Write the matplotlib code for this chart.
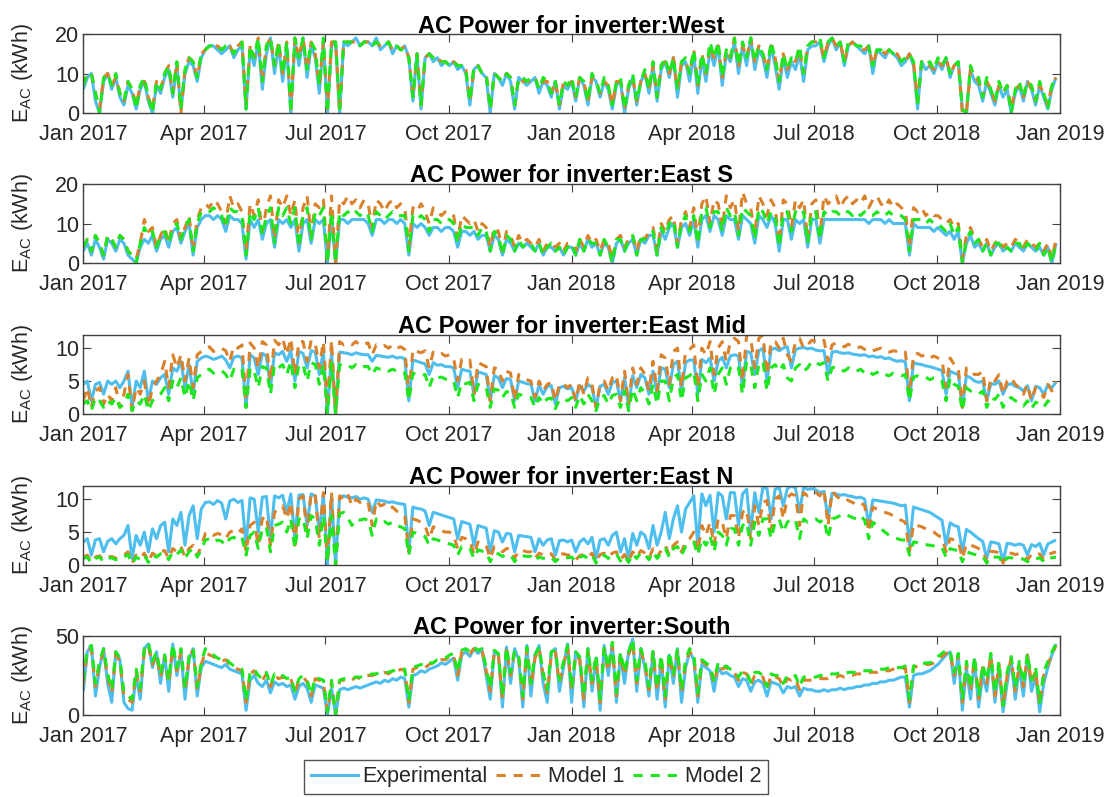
import numpy as np
import pandas as pd
import matplotlib
matplotlib.use("Agg")
import matplotlib.pyplot as plt
import matplotlib.dates as mdates
from matplotlib.lines import Line2D

plt.rcParams['font.family'] = ['Liberation Sans', 'DejaVu Sans']
plt.rcParams['mathtext.fontset'] = 'custom'
plt.rcParams['mathtext.rm'] = 'Liberation Sans'
plt.rcParams['mathtext.it'] = 'Liberation Sans'

# Daily energy (kWh) sampled every 73 h (10 samples per month) from 1 Jan 2017
START = '2017-01-01'
STEP = '73h'

series_names = ['Experimental', 'Model 1', 'Model 2']
inverters = ['West', 'East S', 'East Mid', 'East N', 'South']
y_limits = [20, 20, 12, 12, 50]
y_ticks = [[0, 10, 20], [0, 10, 20], [0, 5, 10], [0, 5, 10], [0, 50]]

west_exp = [
    6, 9, 10, 3, 0, 8, 10, 6, 9, 4,
    2, 7, 5, 1, 6, 8, 3, 0, 7, 5,
    9, 11, 4, 12, 1, 10, 13, 12, 8, 14,
    16, 17, 17, 16, 15, 16, 17, 14, 16, 17,
    1, 16, 12, 18, 6, 15, 19, 10, 17, 8,
    17, 0, 18, 12, 19, 9, 17, 14, 5, 18,
    0, 17, 18, 0, 18, 17, 18, 19, 17, 18,
    18, 17, 19, 16, 17, 18, 15, 17, 16, 17,
    14, 3, 15, 1, 14, 15, 13, 14, 12, 13,
    12, 13, 11, 12, 10, 2, 11, 12, 10, 9,
    0, 10, 9, 7, 10, 8, 1, 9, 8, 7,
    8, 9, 5, 8, 7, 4, 8, 1, 7, 6,
    8, 3, 9, 7, 2, 9, 8, 4, 8, 6,
    1, 7, 8, 0, 6, 9, 2, 8, 10, 5,
    12, 3, 11, 13, 9, 14, 4, 12, 13, 8,
    15, 5, 14, 8, 16, 12, 17, 7, 15, 13,
    18, 10, 17, 12, 19, 11, 16, 14, 9, 17,
    12, 6, 14, 9, 13, 11, 15, 8, 16, 17,
    17, 18, 13, 17, 19, 16, 18, 12, 17, 18,
    17, 16, 15, 17, 10, 16, 15, 14, 16, 15,
    14, 12, 13, 15, 12, 1, 13, 11, 12, 10,
    13, 11, 14, 9, 12, 13, 1, 0, 11, 8,
    7, 3, 8, 5, 2, 7, 4, 6, 0, 5,
    7, 3, 8, 6, 2, 7, 4, 1, 6, 9]
west_m1 = [
    7, 10, 10, 5, 1, 9, 10, 7, 9, 5,
    3, 8, 6, 2, 7, 8, 4, 1, 8, 6,
    10, 12, 5, 13, 0, 11, 14, 13, 9, 15,
    16, 17, 17, 17, 16, 17, 17, 15, 17, 18,
    2, 17, 14, 19, 8, 17, 19, 12, 18, 10,
    18, 1, 19, 14, 19, 11, 18, 15, 7, 18,
    1, 18, 18, 0, 18, 18, 18, 18, 17, 18,
    18, 17, 18, 17, 17, 18, 16, 17, 16, 17,
    14, 4, 15, 2, 14, 15, 14, 14, 13, 13,
    12, 13, 12, 12, 11, 3, 11, 12, 10, 10,
    1, 10, 9, 8, 10, 9, 2, 9, 8, 8,
    8, 9, 6, 8, 8, 5, 8, 2, 8, 7,
    8, 4, 9, 8, 3, 9, 8, 5, 8, 7,
    2, 8, 8, 1, 7, 9, 3, 8, 10, 6,
    12, 4, 12, 13, 10, 14, 6, 13, 13, 10,
    16, 7, 15, 10, 17, 14, 17, 9, 16, 14,
    19, 12, 17, 14, 19, 13, 17, 15, 11, 17,
    14, 8, 15, 11, 14, 13, 16, 10, 17, 18,
    18, 18, 14, 18, 19, 17, 18, 13, 17, 18,
    17, 16, 16, 17, 12, 16, 16, 15, 16, 15,
    15, 13, 13, 15, 13, 3, 13, 12, 12, 11,
    13, 12, 14, 10, 12, 13, 0, 0, 11, 9,
    8, 4, 8, 6, 3, 7, 5, 7, 1, 6,
    7, 4, 8, 6, 3, 7, 5, 2, 7, 9]
west_m2 = [
    7, 10, 10, 5, 0, 9, 10, 7, 10, 5,
    3, 8, 6, 1, 7, 9, 4, 0, 8, 6,
    10, 12, 5, 13, 1, 11, 14, 13, 9, 15,
    16, 17, 17, 17, 16, 17, 17, 15, 17, 18,
    1, 17, 14, 19, 8, 17, 19, 12, 18, 10,
    18, 0, 19, 14, 19, 11, 18, 16, 7, 19,
    0, 18, 18, 1, 18, 18, 18, 18, 17, 18,
    18, 17, 18, 17, 17, 18, 16, 17, 16, 16,
    14, 4, 15, 2, 14, 15, 14, 14, 13, 13,
    12, 13, 12, 12, 11, 3, 12, 12, 10, 10,
    1, 10, 9, 8, 10, 9, 2, 9, 9, 8,
    9, 9, 6, 9, 8, 5, 8, 2, 8, 7,
    9, 4, 9, 8, 3, 10, 8, 5, 9, 7,
    2, 8, 9, 1, 7, 10, 3, 8, 11, 6,
    13, 4, 12, 14, 10, 14, 6, 13, 14, 10,
    16, 7, 15, 10, 18, 14, 18, 9, 16, 14,
    19, 12, 18, 14, 19, 13, 17, 15, 11, 18,
    14, 8, 15, 11, 14, 13, 17, 10, 17, 18,
    18, 19, 14, 18, 19, 17, 18, 13, 18, 18,
    17, 17, 16, 17, 12, 16, 16, 15, 16, 15,
    15, 13, 14, 15, 13, 2, 13, 12, 13, 11,
    14, 12, 14, 10, 12, 13, 1, 0, 12, 9,
    9, 4, 9, 6, 3, 8, 5, 7, 0, 6,
    8, 4, 8, 7, 3, 8, 5, 1, 7, 9]

east_s_exp = [
    3, 5, 2, 6, 4, 1, 6, 5, 3, 6,
    5, 2, 1, 0, 4, 6, 5, 7, 3, 6,
    7, 4, 8, 9, 5, 8, 10, 2, 9, 11,
    12, 12, 11, 12, 11, 8, 12, 11, 11, 10,
    1, 11, 9, 11, 6, 10, 11, 4, 11, 10,
    11, 9, 11, 3, 10, 11, 5, 11, 10, 11,
    0, 11, 0, 11, 11, 10, 11, 11, 11, 11,
    10, 7, 11, 11, 10, 11, 11, 10, 11, 10,
    2, 10, 9, 10, 9, 7, 9, 9, 8, 9,
    9, 8, 4, 8, 8, 7, 8, 6, 7, 7,
    3, 7, 6, 2, 6, 5, 3, 5, 4, 5,
    4, 3, 5, 2, 4, 4, 3, 4, 2, 4,
    4, 2, 5, 3, 6, 4, 5, 2, 5, 4,
    0, 5, 6, 3, 5, 6, 2, 6, 5, 7,
    7, 2, 8, 6, 9, 10, 4, 9, 10, 7,
    11, 4, 11, 12, 8, 12, 11, 7, 12, 11,
    11, 6, 12, 11, 10, 5, 12, 11, 9, 12,
    10, 3, 11, 11, 6, 11, 10, 11, 4, 11,
    11, 5, 11, 11, 11, 11, 11, 11, 11, 11,
    11, 11, 11, 10, 11, 11, 11, 10, 11, 10,
    10, 10, 10, 2, 10, 9, 9, 9, 9, 8,
    9, 8, 7, 8, 6, 8, 0, 5, 7, 4,
    5, 3, 5, 2, 4, 5, 3, 4, 3, 5,
    4, 3, 5, 4, 3, 4, 2, 4, 0, 5]
east_s_m1 = [
    4, 6, 3, 7, 5, 2, 7, 6, 4, 7,
    6, 3, 2, 1, 5, 11, 8, 9, 4, 7,
    9, 5, 10, 11, 6, 9, 12, 3, 11, 14,
    15, 14, 16, 15, 13, 10, 17, 14, 15, 13,
    3, 15, 12, 16, 8, 14, 17, 6, 16, 14,
    17, 12, 16, 5, 14, 17, 7, 15, 14, 16,
    1, 17, 0, 16, 15, 17, 15, 16, 14, 16,
    15, 9, 16, 15, 13, 15, 16, 14, 15, 14,
    4, 14, 13, 15, 13, 10, 14, 13, 12, 13,
    13, 12, 6, 12, 11, 10, 11, 8, 10, 9,
    4, 9, 8, 3, 8, 7, 4, 7, 5, 6,
    5, 4, 6, 3, 5, 5, 4, 5, 3, 5,
    5, 3, 6, 4, 7, 5, 6, 3, 6, 5,
    1, 6, 7, 4, 6, 7, 3, 7, 6, 8,
    9, 3, 10, 8, 11, 12, 5, 11, 13, 9,
    14, 6, 15, 17, 10, 16, 15, 9, 17, 14,
    16, 8, 18, 15, 14, 7, 17, 15, 12, 16,
    14, 5, 16, 15, 9, 16, 14, 16, 6, 15,
    16, 7, 17, 15, 16, 17, 14, 16, 17, 15,
    16, 15, 17, 14, 16, 17, 15, 14, 16, 14,
    15, 14, 13, 4, 14, 13, 14, 12, 13, 12,
    12, 11, 10, 11, 9, 10, 1, 7, 9, 6,
    6, 4, 6, 3, 5, 6, 4, 5, 4, 6,
    5, 4, 6, 5, 4, 5, 3, 5, 1, 6]
east_s_m2 = [
    4, 6, 3, 7, 5, 2, 7, 6, 4, 7,
    6, 3, 2, 0, 5, 9, 7, 8, 4, 7,
    8, 5, 9, 10, 6, 9, 11, 3, 10, 13,
    13, 13, 14, 13, 12, 9, 14, 13, 13, 12,
    2, 13, 11, 14, 7, 12, 14, 5, 14, 12,
    14, 10, 14, 4, 12, 14, 6, 13, 12, 14,
    0, 13, 0, 13, 12, 13, 12, 13, 12, 13,
    12, 8, 13, 12, 11, 12, 13, 12, 12, 12,
    3, 12, 11, 12, 11, 8, 11, 11, 10, 11,
    11, 10, 5, 10, 9, 9, 9, 7, 9, 8,
    3, 8, 7, 2, 7, 6, 3, 6, 4, 5,
    5, 3, 5, 2, 4, 5, 3, 4, 2, 4,
    5, 2, 6, 3, 6, 5, 5, 2, 6, 4,
    0, 6, 6, 3, 6, 7, 2, 6, 6, 7,
    8, 2, 9, 7, 10, 11, 4, 10, 12, 8,
    12, 5, 13, 14, 9, 13, 13, 8, 14, 12,
    13, 7, 14, 13, 12, 6, 14, 13, 10, 13,
    12, 4, 13, 13, 8, 13, 12, 13, 5, 13,
    13, 6, 13, 12, 13, 13, 12, 13, 13, 12,
    13, 12, 13, 12, 12, 13, 12, 12, 13, 12,
    12, 12, 11, 3, 11, 11, 11, 10, 11, 10,
    10, 9, 8, 10, 7, 9, 0, 6, 8, 5,
    6, 3, 5, 2, 5, 5, 3, 4, 3, 5,
    5, 3, 5, 4, 3, 5, 2, 4, 0, 5]

east_mid_exp = [
    4.5, 5, 2, 4.5, 4.8, 3, 5, 4.5, 5, 4,
    5, 6.5, 1, 5, 4, 6.5, 2, 5, 4.5, 5.5,
    6, 3, 7, 6.5, 8, 4, 7.5, 3, 8, 8.5,
    8.8, 8.6, 8.3, 8.5, 8.8, 8.2, 7, 8.6, 8.8, 8.5,
    1, 9, 8.5, 6, 9.2, 8.8, 4, 9.3, 9, 9.5,
    8, 9.6, 5, 9.5, 9.2, 7, 9.6, 9.4, 6, 9.5,
    0, 9.3, 0, 9.4, 9.3, 9.2, 9, 9.3, 9.1, 9,
    9, 8, 8.9, 8.8, 8.7, 8.6, 8.8, 8.5, 8.6, 8.4,
    2, 8.2, 8, 7.8, 7.6, 6, 7.8, 7.4, 7.5, 7.2,
    7.2, 7, 4, 6.8, 6.6, 6.5, 3, 6.4, 6.2, 6,
    2, 5.8, 5.5, 4, 5.4, 5.2, 2, 5, 4.8, 4.6,
    4.5, 2, 4.4, 3, 4.2, 4.3, 1.5, 4, 4.2, 3.8,
    4, 2, 4.3, 3.5, 4.5, 4, 1, 4.2, 4.5, 3,
    4.8, 5, 2, 5.5, 1, 5.8, 4, 6, 5.5, 3,
    6.5, 3, 7, 6.8, 4, 7.5, 8, 3.5, 7.8, 8.2,
    8.2, 3, 8.3, 7.8, 8.5, 5, 8, 8.6, 7, 8.8,
    9, 8.8, 4, 9.5, 9.3, 6, 9.6, 10, 5, 9.8,
    10, 9.6, 10, 10.2, 7, 9.8, 10, 10.1, 9.9, 10,
    9.7, 9.6, 9.6, 6, 9.4, 9.5, 9.3, 9.2, 9.3, 9.1,
    9, 8.9, 9, 8.7, 8.8, 8.6, 8.7, 8.4, 8.5, 8.2,
    8, 8.1, 7.9, 2, 7.8, 7.6, 7.5, 7.3, 7.2, 7,
    6.8, 6.6, 3, 6.5, 6.2, 6, 1, 5.8, 5.5, 5,
    4.8, 5, 2, 4.6, 4.5, 5, 3, 4.4, 4.6, 4.2,
    4, 3.5, 4.3, 2, 4.2, 4, 3, 4.4, 4, 4.8]
east_mid_m1 = [
    2, 4, 1, 3.5, 4, 1.5, 3, 2, 4, 1,
    3, 6, 0.5, 4, 3, 5, 1, 4, 5, 6,
    8, 4, 9, 7, 9, 5, 8.5, 4, 9, 9.5,
    10, 10.2, 9.5, 9.8, 10, 9.6, 8, 10.3, 10, 10.5,
    2, 10.8, 10, 7, 11, 10.5, 5, 11.2, 10.5, 11.5,
    9, 11.5, 6, 11, 11, 8, 11.2, 10.8, 7, 11,
    1, 11.2, 0, 11, 10.5, 10.8, 10.5, 11, 10.4, 10.6,
    10.8, 9, 10.5, 10.2, 10.4, 10, 10.5, 10, 10.2, 9.8,
    3, 9.8, 9.5, 9.3, 9.6, 7, 9.4, 9, 9.2, 8.8,
    9, 8.5, 5, 8.3, 8, 8.2, 3, 7.8, 7.5, 7.2,
    2, 7, 6.8, 5, 6.5, 6.2, 2, 6, 5.5, 5.2,
    5, 2.5, 5, 3.5, 4.5, 4.8, 2, 4.5, 4.6, 4,
    4.5, 2, 5, 3, 5.5, 4.5, 1, 4.6, 5, 3.5,
    5.5, 6, 2, 6.5, 1.5, 7, 4.5, 7, 6, 3.5,
    8, 3.5, 9, 8.5, 4.5, 9.5, 10, 4, 9.5, 9.8,
    10.5, 4, 10, 9, 11, 6, 10, 11, 8, 11,
    11.5, 11, 5, 12, 11.5, 7, 11.5, 12, 6, 11,
    11, 10, 11.5, 9, 8, 11, 11.5, 10, 10.5, 11.2,
    11, 10.8, 11.2, 8, 10.5, 10.8, 10.5, 10.2, 10.6, 10.2,
    10, 10.2, 9.8, 10, 9.6, 9.8, 10, 9.5, 9.4, 9.6,
    9.5, 9.2, 9.4, 3, 9, 9.2, 8.8, 9, 8.5, 8.8,
    8.5, 8.2, 4, 8.5, 7.5, 7, 1, 7, 6.5, 6,
    6, 6.5, 2, 5.5, 5, 6, 3, 5, 5.5, 4.5,
    4, 3, 4.5, 2, 4, 3.5, 2.5, 4.5, 3.5, 5]
east_mid_m2 = [
    1.5, 2, 0.5, 2.5, 2, 1, 2, 1.5, 2.5, 1,
    1.5, 3, 0.5, 2, 1.5, 3, 0.5, 2, 2.5, 3,
    4, 2, 5, 4, 5.5, 2.5, 5, 2, 5.5, 6,
    6.5, 6.8, 6.2, 6.5, 6.6, 6, 5, 6.8, 6.5, 6.8,
    1, 7, 6.5, 4, 7.2, 7, 3, 7.5, 7, 7.5,
    6, 8, 4, 7.5, 7.5, 5, 7.8, 7.5, 4.5, 7.5,
    0, 7.8, 0, 7.5, 7.2, 7.4, 7, 7.5, 7, 7.2,
    7.2, 6, 7, 6.8, 6.9, 6.5, 6.8, 6.5, 6.6, 6.3,
    2, 6.2, 6, 5.8, 6, 4, 5.8, 5.5, 5.6, 5.3,
    5.2, 5, 2.5, 4.8, 4.6, 4.8, 2, 4.5, 4.2, 4,
    1, 3.8, 3.6, 2.5, 3.4, 3.2, 1, 3, 2.8, 2.6,
    2.5, 1, 2.5, 1.5, 2.3, 2.4, 0.8, 2.2, 2.3, 2,
    2.5, 1, 2.8, 1.5, 3, 2, 0.5, 2.5, 2.8, 1.5,
    2.8, 3, 1, 3.5, 0.5, 3.8, 2, 4, 3.2, 1.5,
    4.5, 1.5, 5, 5, 2, 5.5, 6, 2, 5.5, 5.8,
    6.5, 2, 6, 5, 7, 3, 6, 7, 4.5, 7,
    7.5, 7, 3, 8, 7.5, 4, 7.5, 8, 3.5, 7,
    7.5, 6.5, 7.5, 5.5, 5, 7, 7.5, 6.5, 7, 8,
    7.8, 7.5, 7.8, 5, 7, 7.2, 6.8, 6.5, 7, 6.6,
    6.5, 6.8, 6.2, 6.5, 6, 6.3, 6.5, 6, 5.8, 6.2,
    6, 5.8, 6, 2, 5.6, 5.8, 5.5, 5.6, 5.2, 5.5,
    5.5, 5, 2, 5.5, 4.5, 4.2, 0.5, 4, 3.5, 3.2,
    3, 3.5, 1, 2.5, 2.2, 3, 1, 2.2, 2.5, 2,
    1.8, 1.2, 2, 0.8, 1.8, 1.5, 1, 2, 1.5, 2]

east_n_exp = [
    3.5, 4, 1.5, 3.8, 4, 2, 3.6, 4, 3.2, 4,
    4.5, 6, 1, 4.5, 3, 5, 2, 5.5, 4, 6,
    6.5, 2, 7, 6, 8, 3, 7.5, 9, 4, 8.5,
    9.5, 9.6, 9.2, 9.8, 9.4, 7, 9.7, 10, 9.5, 9.8,
    3, 10.2, 10, 5, 10.3, 10.4, 4, 10.5, 10.2, 10.6,
    8, 10.8, 4, 10.6, 10.7, 6, 10.8, 10.5, 5, 10.6,
    0, 10.5, 0, 10.4, 10.5, 10.3, 10.2, 10.4, 10, 10.2,
    10, 8, 9.9, 9.8, 9.7, 9.5, 9.6, 9.4, 9.3, 9.2,
    2, 8.8, 8.6, 8.5, 8.2, 6, 8, 7.8, 7.6, 7.4,
    7.2, 7, 4, 6.6, 6.4, 6.2, 3, 6, 5.8, 5.6,
    2, 5.2, 5, 3.5, 4.8, 4.7, 2, 4.5, 4.4, 4.3,
    4.2, 2, 4, 3, 3.8, 4, 1.5, 3.7, 3.8, 3.5,
    3.8, 2, 3.5, 4, 3.2, 4.2, 1, 3.8, 4, 3,
    4.5, 5, 2, 4, 1, 4.8, 3, 5, 4.5, 2.5,
    6, 3, 5, 8, 4, 7, 9, 5, 8.5, 9.5,
    10.5, 3, 10.8, 9, 10.6, 5, 11, 10.5, 7, 11,
    11, 6, 10.8, 11.5, 5, 11, 8, 11.8, 11.6, 7,
    11.5, 11.8, 9, 11.6, 12, 11.7, 8, 11.8, 11.5, 11.6,
    11.4, 11, 11.2, 7, 10.9, 10.8, 10.6, 10.7, 10.5, 10.4,
    10.2, 10.3, 10, 6, 9.9, 9.8, 9.7, 9.6, 9.5, 9.4,
    9.2, 9, 9.1, 3, 8.8, 8.6, 8.4, 8.2, 8, 7.6,
    7.2, 6.8, 3, 6.4, 6, 5.8, 2, 5.4, 5, 4.5,
    4, 3.6, 1, 3.5, 3.4, 3.2, 0.5, 3.3, 3.2, 3,
    3.2, 3, 1.5, 3.1, 2.8, 3.3, 1.5, 3.2, 3.5, 3.8]
east_n_m1 = [
    1.2, 1.5, 0.5, 1.2, 1.4, 0.8, 1.2, 1.3, 1, 1.4,
    1.5, 2, 0.3, 1.5, 1, 1.8, 0.5, 1.8, 1.4, 2,
    2.2, 1, 2.5, 2, 2.8, 1.2, 2.5, 3, 1.5, 2.8,
    4.8, 5, 4.5, 4.8, 4.6, 4, 5, 5.2, 4.8, 5.5,
    2, 6, 6.5, 3, 7, 7.5, 3, 8, 8.5, 9,
    7, 9.5, 3, 10, 10.5, 5, 11, 10.5, 4, 11,
    1, 11, 0, 10.5, 10, 10.8, 9, 10, 9.5, 9.8,
    9.5, 6, 9.8, 9, 9.2, 8.5, 8.8, 8.2, 8, 7.5,
    2, 7, 6.8, 6.5, 6, 4, 5.8, 5.5, 5.2, 5,
    5, 4.5, 2.5, 4.2, 4, 3.8, 1.5, 3.5, 3.2, 3,
    1, 2.8, 2.6, 2, 2.5, 2.4, 1, 2.2, 2.2, 2,
    2, 1, 1.8, 1.5, 1.8, 1.7, 0.8, 1.6, 1.7, 1.5,
    1.5, 0.8, 1.4, 1.6, 1.2, 1.8, 0.5, 1.6, 1.8, 1.2,
    1.8, 2, 0.8, 1.6, 0.5, 2, 1.2, 2.2, 1.8, 1,
    2.5, 1.2, 2.2, 3, 1.5, 3, 3.5, 2, 3.5, 4,
    5, 2, 6, 4.5, 6.5, 3, 7, 6.5, 4, 7.5,
    7.5, 4, 8, 8.5, 4, 9, 6, 9.5, 9.8, 5,
    10, 10.5, 7, 10.2, 10.8, 10.5, 6, 11, 10.5, 10.8,
    11, 10.5, 11.5, 6, 11.2, 10.5, 10, 10.2, 9.8, 9.5,
    9.2, 9.5, 9, 5, 8.8, 8.5, 8.2, 8, 7.8, 7.5,
    7, 6.8, 6.5, 2, 6.2, 6, 5.8, 5.5, 5.2, 5,
    4.5, 4.2, 2, 4, 3.8, 3.6, 1, 3.2, 3, 2.8,
    2.5, 2.2, 0.5, 2.1, 2, 1.9, 0.3, 1.8, 1.8, 1.6,
    1.7, 1.5, 0.8, 1.6, 1.4, 1.7, 0.8, 1.6, 1.8, 2]
east_n_m2 = [
    1, 1.2, 0.3, 1, 1.2, 0.5, 1, 1.1, 0.8, 1.2,
    1.2, 1.6, 0.2, 1.2, 0.8, 1.5, 0.4, 1.5, 1.2, 1.7,
    1.8, 0.8, 2, 1.6, 2.3, 1, 2, 2.5, 1.2, 2.3,
    3.8, 4, 3.5, 3.8, 3.6, 3, 4, 4.2, 3.8, 4.2,
    1.5, 4.5, 5, 2.5, 5.5, 5.8, 2, 6, 6.2, 6.5,
    5, 7, 2.5, 7, 7.2, 4, 7.5, 7, 3, 7.5,
    0.5, 7.5, 0, 7.8, 8, 7.2, 6, 7, 6.8, 7,
    6.8, 4.5, 7, 6.5, 6.6, 6.2, 6.5, 6, 5.8, 5.5,
    1.5, 5, 4.8, 4.6, 4.3, 3, 4, 3.8, 3.6, 3.4,
    3.2, 3, 1.5, 2.8, 2.6, 2.5, 1, 2.3, 2.1, 2,
    0.5, 1.8, 1.7, 1.3, 1.6, 1.5, 0.5, 1.4, 1.4, 1.3,
    1.3, 0.6, 1.2, 1, 1.2, 1.2, 0.5, 1.1, 1.2, 1.1,
    1.2, 0.5, 1.2, 1.4, 1, 1.5, 0.3, 1.3, 1.5, 1,
    1.5, 1.7, 0.6, 1.4, 0.4, 1.7, 1, 1.9, 1.6, 0.8,
    2, 1, 1.8, 2.5, 1.2, 2.5, 2.8, 1.5, 2.8, 3,
    3.5, 1.5, 4, 3, 4.5, 2, 5, 4.5, 3, 5.5,
    5.5, 3, 6, 6.5, 3, 6.5, 4.5, 7, 7, 4,
    6.5, 7, 5, 6.5, 7, 6.8, 4, 7, 6.5, 6.8,
    7, 6.5, 7, 4, 7, 7.2, 7.5, 7.8, 7.5, 7.2,
    7, 7.5, 6.8, 4, 6.5, 6, 5.5, 5, 4.5, 4.2,
    4, 3.8, 3.8, 1.5, 3.5, 3.4, 3.2, 3.1, 3, 2.9,
    2.8, 2.6, 1.2, 2.5, 2.3, 2.2, 0.5, 2, 1.8, 1.6,
    1.5, 1.3, 0.3, 1.3, 1.2, 1.2, 0.2, 1.1, 1.1, 1,
    1, 0.9, 0.5, 1, 0.9, 1.1, 0.5, 1, 1.1, 1.2]

south_exp = [
    15, 40, 44, 12, 30, 42, 20, 8, 40, 35,
    8, 4, 3, 25, 10, 42, 45, 30, 40, 20,
    38, 15, 45, 25, 40, 10, 35, 42, 12, 30,
    34, 33, 32, 31, 30, 32, 29, 28, 27, 26,
    3, 22, 25, 20, 18, 22, 14, 21, 19, 20,
    18, 19, 10, 18, 20, 17, 8, 19, 18, 17,
    0, 17, 0, 16, 17, 16, 17, 18, 17, 18,
    19, 20, 21, 20, 22, 21, 23, 22, 24, 23,
    5, 25, 26, 28, 27, 29, 30, 31, 33, 32,
    34, 36, 22, 38, 40, 37, 42, 39, 41, 25,
    10, 40, 38, 5, 43, 20, 42, 35, 5, 44,
    12, 38, 44, 20, 8, 40, 42, 15, 30, 45,
    8, 40, 35, 5, 42, 15, 36, 3, 44, 25,
    45, 8, 38, 20, 40, 48, 15, 42, 30, 12,
    40, 10, 35, 5, 38, 20, 42, 8, 30, 40,
    35, 8, 32, 30, 28, 15, 30, 26, 27, 25,
    24, 18, 23, 22, 15, 21, 22, 20, 12, 21,
    20, 19, 14, 18, 17, 18, 12, 17, 16, 16,
    15, 15, 16, 15, 16, 16, 17, 16, 17, 17,
    18, 18, 19, 19, 20, 20, 21, 21, 22, 22,
    23, 24, 24, 5, 25, 26, 26, 27, 28, 30,
    32, 35, 38, 40, 20, 38, 3, 30, 10, 35,
    5, 25, 15, 38, 8, 30, 2, 20, 35, 10,
    30, 12, 38, 15, 25, 2, 20, 30, 38, 45]
south_m1 = [
    20, 40, 42, 18, 32, 40, 24, 14, 38, 34,
    12, 10, 8, 27, 15, 40, 44, 32, 38, 24,
    37, 20, 43, 28, 40, 15, 36, 41, 16, 32,
    40, 38, 37, 35, 34, 35, 32, 30, 29, 28,
    8, 26, 28, 24, 22, 26, 18, 25, 23, 24,
    22, 23, 14, 22, 24, 21, 12, 23, 22, 21,
    2, 21, 0, 22, 22, 23, 22, 24, 23, 24,
    25, 25, 26, 26, 27, 26, 28, 27, 29, 28,
    8, 29, 30, 31, 30, 32, 33, 34, 35, 35,
    37, 38, 25, 40, 41, 39, 42, 40, 41, 28,
    15, 40, 38, 10, 42, 25, 40, 36, 10, 42,
    18, 36, 42, 25, 14, 38, 40, 20, 32, 43,
    15, 38, 35, 10, 40, 20, 36, 8, 42, 28,
    44, 12, 38, 25, 38, 46, 20, 40, 32, 16,
    39, 15, 36, 10, 38, 24, 40, 14, 33, 40,
    37, 12, 34, 32, 30, 20, 32, 29, 30, 28,
    27, 22, 27, 26, 19, 25, 26, 24, 16, 25,
    24, 23, 18, 23, 22, 23, 16, 22, 22, 22,
    22, 23, 23, 23, 24, 24, 25, 24, 25, 25,
    26, 26, 26, 27, 27, 27, 28, 28, 28, 29,
    29, 29, 30, 8, 30, 31, 31, 32, 32, 33,
    35, 37, 39, 40, 25, 38, 8, 32, 15, 36,
    10, 30, 20, 38, 12, 32, 5, 25, 36, 15,
    32, 18, 38, 20, 28, 6, 25, 32, 38, 44]
south_m2 = [
    22, 42, 44, 20, 34, 42, 26, 16, 40, 36,
    14, 12, 10, 29, 17, 42, 46, 34, 40, 26,
    38, 22, 45, 30, 42, 17, 37, 42, 18, 33,
    42, 40, 38, 36, 35, 36, 33, 31, 30, 29,
    9, 27, 29, 25, 23, 27, 19, 26, 24, 25,
    23, 24, 15, 23, 25, 22, 13, 24, 23, 22,
    2, 22, 0, 22, 23, 23, 23, 24, 24, 24,
    25, 26, 26, 27, 27, 27, 28, 28, 29, 29,
    9, 30, 31, 32, 31, 33, 33, 35, 35, 36,
    38, 39, 27, 41, 42, 40, 43, 41, 42, 30,
    17, 41, 39, 12, 43, 27, 41, 37, 12, 43,
    20, 38, 43, 27, 16, 40, 41, 22, 34, 44,
    17, 40, 37, 12, 42, 22, 38, 10, 43, 30,
    46, 14, 40, 27, 40, 48, 22, 42, 34, 18,
    41, 17, 38, 12, 40, 26, 42, 16, 35, 42,
    39, 14, 35, 33, 31, 22, 33, 30, 31, 29,
    28, 24, 28, 27, 21, 27, 27, 25, 18, 26,
    25, 25, 20, 25, 24, 25, 18, 24, 24, 24,
    24, 25, 25, 25, 26, 26, 27, 26, 27, 27,
    27, 28, 28, 28, 28, 29, 29, 29, 30, 30,
    30, 30, 31, 10, 31, 32, 32, 33, 33, 34,
    37, 39, 41, 41, 27, 39, 10, 34, 17, 37,
    12, 32, 22, 39, 14, 34, 6, 27, 37, 17,
    34, 20, 39, 22, 30, 8, 27, 34, 40, 45]

panel_data = [
    (west_exp, west_m1, west_m2),
    (east_s_exp, east_s_m1, east_s_m2),
    (east_mid_exp, east_mid_m1, east_mid_m2),
    (east_n_exp, east_n_m1, east_n_m2),
    (south_exp, south_m1, south_m2),
]

colors = ['#4DBEEE', '#D9822B', '#1EE61E']
LW = 2.2
dash = (0, (3.0, 2.6))
styles = ['-', dash, dash]
TEXT_GRAY = '#262626'
AX_GRAY = '#404040'
FS = 15.5

fig = plt.figure(figsize=(11.13, 7.97), dpi=100)
ax_left, ax_width, ax_height = 0.0748, 0.8776, 0.0991
bottoms = [0.8582, 0.6700, 0.4806, 0.2911, 0.1029]
title_pads = [0.5, 1.5, 1.5, 1.5, 1.5]

x_min = np.datetime64('2017-01-01')
x_max = np.datetime64('2019-01-01')
tick_dates = pd.date_range('2017-01-01', '2019-01-01', freq='3MS')

for k, (name, data) in enumerate(zip(inverters, panel_data)):
    ax = fig.add_axes([ax_left, bottoms[k], ax_width, ax_height])
    for values, col, ls in zip(data, colors, styles):
        dates = pd.date_range(START, periods=len(values), freq=STEP)
        ax.plot(dates, values, color=col, lw=LW, linestyle=ls,
                solid_capstyle='butt', dash_capstyle='butt')
    ax.set_xlim(x_min, x_max)
    ax.set_ylim(0, y_limits[k])
    ax.set_yticks(y_ticks[k])
    ax.set_xticks(tick_dates)
    ax.xaxis.set_major_formatter(mdates.DateFormatter('%b %Y'))
    ax.tick_params(axis='both', which='major', direction='in', length=6,
                   width=0.8, color=AX_GRAY, labelsize=FS, labelcolor=TEXT_GRAY,
                   top=True, right=True)
    ax.tick_params(axis='x', pad=8)
    ax.tick_params(axis='y', pad=3)
    for sp in ax.spines.values():
        sp.set_color(AX_GRAY)
        sp.set_linewidth(1.0)
    ax.set_title(f'AC Power for inverter:{name}', fontsize=17, fontweight='bold',
                 color='black', pad=title_pads[k])
    ax.set_ylabel(r'E$_{\rm AC}$ (kWh)', fontsize=FS, color=TEXT_GRAY)
    ax.yaxis.set_label_coords(-0.049, 0.5)

handles = [Line2D([0], [0], color=c, lw=LW, linestyle=s) for c, s in zip(colors, styles)]
leg = fig.legend(handles, series_names, loc='center', bbox_to_anchor=(0.4816, 0.0251),
                 ncol=3, fontsize=FS, frameon=True, fancybox=False, handlelength=2.2,
                 handletextpad=0.2, columnspacing=0.4, borderpad=0.3, borderaxespad=0)
leg.get_frame().set_edgecolor(TEXT_GRAY)
leg.get_frame().set_linewidth(1.0)
for t in leg.get_texts():
    t.set_color(TEXT_GRAY)

fig.savefig('out.png', dpi=100)
